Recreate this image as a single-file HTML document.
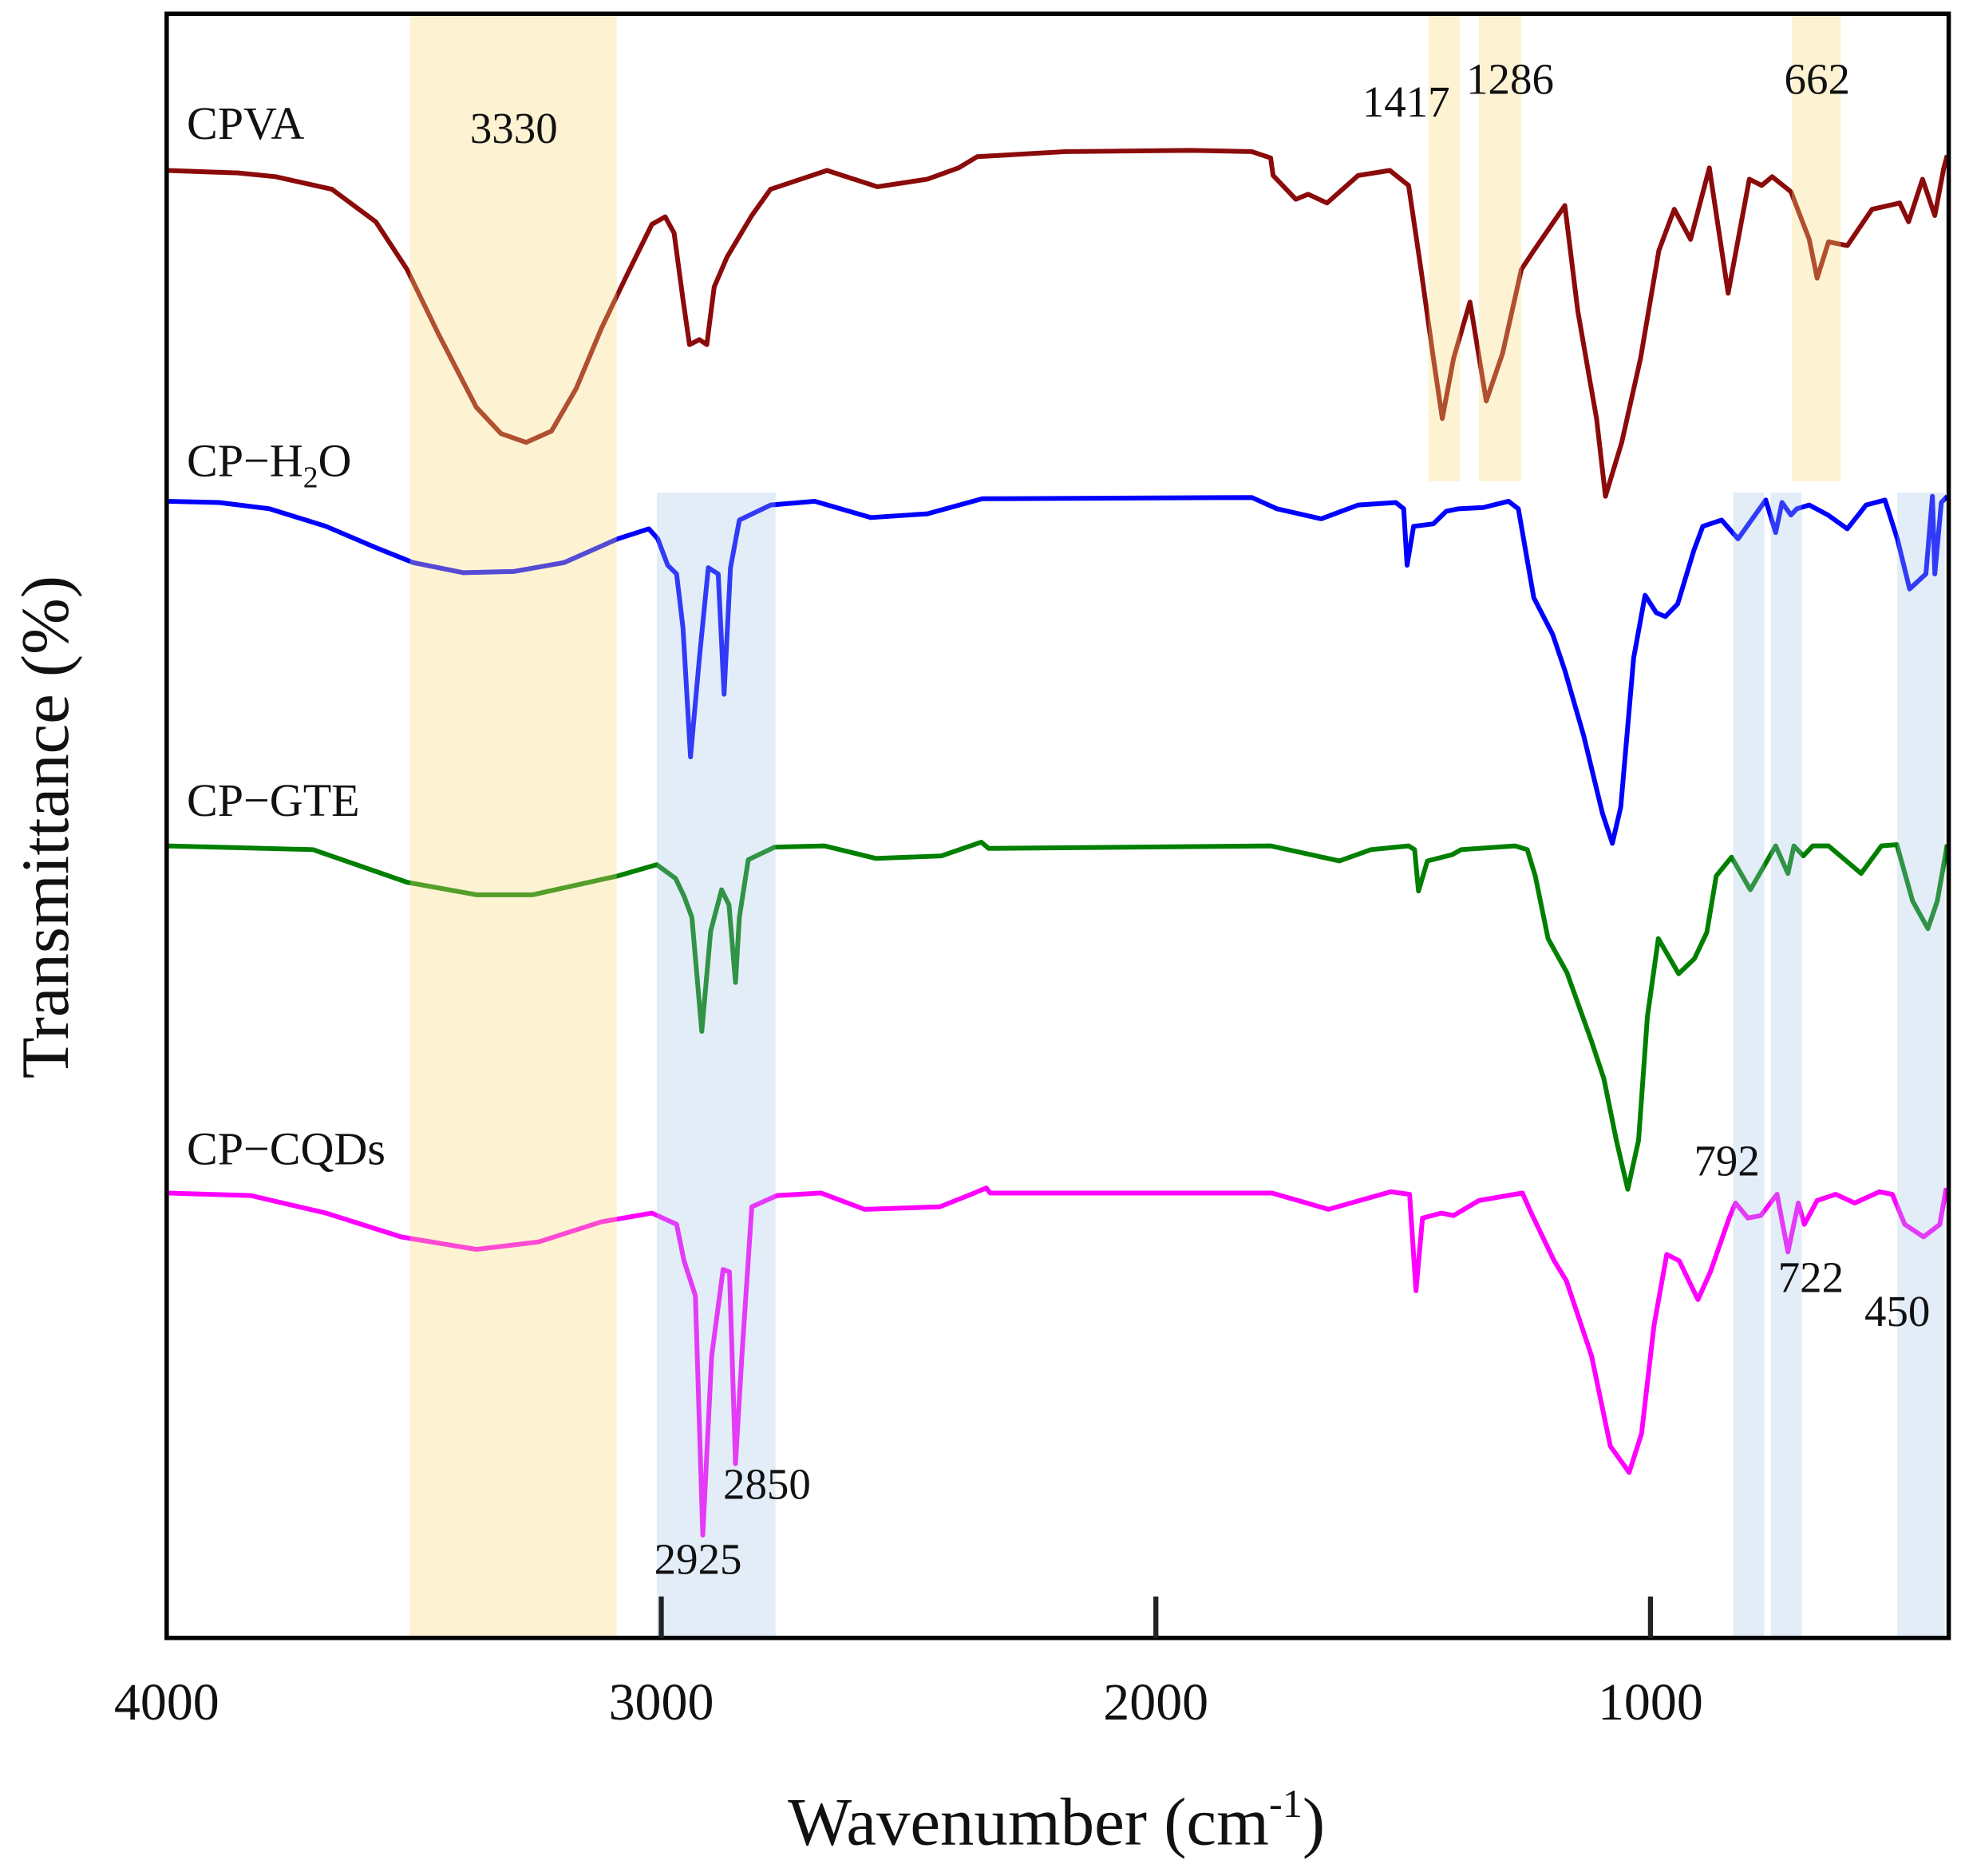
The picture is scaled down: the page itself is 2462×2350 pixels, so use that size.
<!DOCTYPE html>
<html><head><meta charset="utf-8"><style>
html,body{margin:0;padding:0;background:#fff;}
svg{display:block;}
text{font-family:"Liberation Serif","DejaVu Serif",serif;fill:#111;}
</style></head><body>
<svg id="chart" width="2462" height="2350" viewBox="0 0 1568 1497" preserveAspectRatio="none" xmlns="http://www.w3.org/2000/svg">
<g id="lines"></g>
<g id="bands"></g>
<rect x="133" y="11" width="1422" height="1296" fill="none" stroke="#000" stroke-width="3.5"/>
<g id="ticks"></g>
<g font-size="37">
<text x="149" y="111">CPVA</text>
<text x="149" y="380">CP−H<tspan font-size="24" dy="9">2</tspan><tspan dy="-9">O</tspan></text>
<text x="149" y="651">CP−GTE</text>
<text x="149" y="929">CP−CQDs</text>
<text x="410" y="114" text-anchor="middle" font-size="35">3330</text>
<text x="1122" y="93" text-anchor="middle" font-size="35">1417</text>
<text x="1205" y="75" text-anchor="middle" font-size="35">1286</text>
<text x="1450" y="75" text-anchor="middle" font-size="35">662</text>
<text x="1378" y="938" text-anchor="middle" font-size="35">792</text>
<text x="1445" y="1031" text-anchor="middle" font-size="35">722</text>
<text x="1514" y="1058" text-anchor="middle" font-size="35">450</text>
<text x="612" y="1196" text-anchor="middle" font-size="35">2850</text>
<text x="557" y="1256" text-anchor="middle" font-size="35">2925</text>
<text x="843" y="1472" text-anchor="middle" font-size="54">Wavenumber (cm<tspan font-size="32" dy="-22">-1</tspan><tspan dy="22">)</tspan></text>
<text transform="translate(54,660) rotate(-90)" text-anchor="middle" font-size="54">Transmittance (%)</text>
</g>
</svg>
<script>
const tickValues=[4000,3000,2000,1000];
const bandYellowFull=[[3508,3090]];
const bandYellowTop=[[1449,1385],[1347,1261],[714,615]];
const bandBlue=[[3009,2769],[833,770],[757,694],[501,405]];
const cpvaWn=[4000,3856,3780,3666,3577,3514,3450,3374,3324,3273,3222,3172,3121,3070,3019,2992,2974,2956,2943,2923,2908,2893,2867,2817,2779,2665,2563,2462,2399,2361,2183,1930,1806,1768,1763,1717,1692,1654,1591,1527,1489,1464,1439,1421,1398,1365,1332,1299,1261,1236,1173,1147,1122,1109,1091,1058,1020,983,952,919,881,843,800,775,754,716,679,663,640,602,552,496,478,450,425,407,400];
const cpvaT=[118.4,118.2,117.9,116.9,114.3,110.5,105.3,99.5,97.4,96.7,97.6,101,105.8,110,114.1,114.7,113.4,108.1,104.5,104.9,104.5,109.1,111.5,114.8,116.9,118.4,117.1,117.7,118.6,119.5,119.9,120,119.9,119.4,118,116.1,116.5,115.8,118,118.4,117.2,110.5,103.4,98.6,103.4,107.9,100,103.8,110.5,112,115.6,107.2,101.5,98.6,92.4,96.7,103.4,112,115.3,112.9,118.6,108.6,117.7,117.2,117.9,116.7,112.9,109.8,112.7,112.4,115.3,115.8,114.3,117.7,114.8,118.6,119.6];
const h2oWn=[4000,3894,3792,3678,3577,3501,3400,3298,3197,3088,3025,3007,2987,2969,2956,2941,2923,2905,2885,2873,2860,2842,2779,2690,2576,2462,2351,1806,1755,1666,1591,1515,1499,1492,1479,1439,1413,1388,1338,1287,1267,1236,1198,1173,1135,1097,1077,1060,1034,1011,988,970,945,912,894,856,823,767,747,734,716,704,679,641,602,564,526,501,476,443,430,425,412,400];
const h2oT=[92,91.9,91.4,90,88.3,87.1,86.3,86.4,87.1,89,89.8,89,86.9,86.2,81.9,71.6,79.5,86.7,86.2,76.6,86.7,90.5,91.7,92,90.7,91,92.2,92.3,91.4,90.6,91.7,91.9,91.4,86.9,90,90.2,91.2,91.4,91.5,92,91.4,84.3,81.4,78.5,73.3,67.1,64.7,67.6,79.5,84.5,83.1,82.8,83.8,88.1,90,90.5,89,92.1,89.5,91.9,90.9,91.4,91.7,90.9,89.8,91.7,92.1,89,85,86.2,92.4,86.2,91.9,92.4];
const gteWn=[4000,3704,3514,3374,3260,3088,3009,2971,2954,2938,2918,2900,2878,2863,2850,2842,2824,2771,2670,2566,2434,2353,2338,1768,1629,1565,1489,1477,1469,1451,1401,1383,1274,1249,1233,1207,1169,1119,1094,1069,1046,1024,1006,984,943,911,886,867,836,798,747,722,710,691,672,640,574,533,502,470,439,420,400];
const gteT=[64.5,64.2,61.6,60.6,60.6,62.1,63,61.9,60.5,58.8,49.7,57.7,61,59.8,53.6,58.8,63.4,64.4,64.5,63.5,63.7,64.8,64.3,64.5,63.3,64.2,64.5,64.2,60.9,63.3,63.8,64.2,64.5,64.2,62.1,57.1,54.4,48.9,45.9,41,37.1,41,50.9,57.1,54.3,55.5,57.6,62.1,63.6,61,64.5,62.3,64.5,63.7,64.5,64.5,62.3,64.5,64.6,60.1,57.9,60.1,64.6];
const cqdWn=[4000,3830,3678,3526,3374,3248,3121,3019,2969,2954,2931,2916,2898,2875,2862,2850,2837,2817,2766,2677,2589,2437,2373,2343,2335,1765,1651,1525,1487,1474,1461,1423,1398,1347,1259,1241,1195,1170,1119,1081,1043,1018,993,967,942,904,879,841,828,803,777,744,722,701,689,663,625,587,537,511,486,448,415,402];
const cqdT=[36.8,36.6,35.2,33.3,32.3,32.9,34.5,35.2,34.3,31.4,28.6,9.5,23.8,30.7,30.5,15.2,23.8,35.7,36.6,36.8,35.5,35.7,36.7,37.2,36.8,36.8,35.5,36.9,36.7,29,34.8,35.2,35,36.2,36.8,35.2,31.4,29.8,23.8,16.6,14.5,17.6,26.2,31.9,31.4,28.3,30.5,34.8,36,34.8,35,36.7,32.1,36,34.3,36.2,36.7,36,36.9,36.7,34.3,33.3,34.3,37.2];

const X0=133,X1=1555,Y0=1307,Y1=11;
const xDomain=[4000,397],yDomain=[1.3,130.9];
function xs(w){return X0+(xDomain[0]-w)/(xDomain[0]-xDomain[1])*(X1-X0);}
function ys(t){return Y0-(t-yDomain[0])/(yDomain[1]-yDomain[0])*(Y0-Y1);}
const NS="http://www.w3.org/2000/svg";
const lines=document.getElementById('lines');
const series=[["cpva-line",cpvaWn,cpvaT,"#8b0a0a"],["cp-h2o-line",h2oWn,h2oT,"#0000ff"],["cp-gte-line",gteWn,gteT,"#007f00"],["cp-cqds-line",cqdWn,cqdT,"#ff00ff"]];
series.forEach(s=>{
  const p=document.createElementNS(NS,'path');
  let d='';
  for(let i=0;i<s[1].length;i++){d+=(i?'L':'M')+xs(s[1][i]).toFixed(1)+','+ys(s[2][i]).toFixed(1);}
  p.setAttribute('d',d);
  p.setAttribute('fill','none');
  p.setAttribute('stroke',s[3]);
  p.setAttribute('stroke-width','3.8');
  p.setAttribute('stroke-linejoin','round');
  
  
  lines.appendChild(p);
});
const bands=document.getElementById('bands');
function band(b,y0,y1,color,op,name){
  const r=document.createElementNS(NS,'rect');
  const a=xs(b[0]),c=xs(b[1]);
  r.setAttribute('x',Math.min(a,c));r.setAttribute('width',Math.abs(c-a));
  r.setAttribute('y',y0);r.setAttribute('height',y1-y0);
  r.setAttribute('fill',color);r.setAttribute('fill-opacity',op);
  
  
  bands.appendChild(r);
}
bandYellowFull.forEach(b=>band(b,11,1307,'rgb(249,220,125)',0.336,'band-oh'));
bandYellowTop.forEach(b=>band(b,11,384,'rgb(249,220,125)',0.336,'band-cpva'));
bandBlue.forEach(b=>band(b,393,1307,'rgb(162,195,228)',0.3,'band-blue'));
const ticks=document.getElementById('ticks');
tickValues.forEach(v=>{
  const x=xs(v);
  if(v!==4000){
    const l=document.createElementNS(NS,'line');
    l.setAttribute('x1',x);l.setAttribute('x2',x);l.setAttribute('y1',1307);l.setAttribute('y2',1274);
    l.setAttribute('stroke','#222');l.setAttribute('stroke-width','4');
    
    
    ticks.appendChild(l);
  }
  const t=document.createElementNS(NS,'text');
  t.setAttribute('x',x);t.setAttribute('y',1372);t.setAttribute('text-anchor','middle');t.setAttribute('font-size','42');
  t.textContent=v;
  
  
  ticks.appendChild(t);
});
</script>
</body></html>
